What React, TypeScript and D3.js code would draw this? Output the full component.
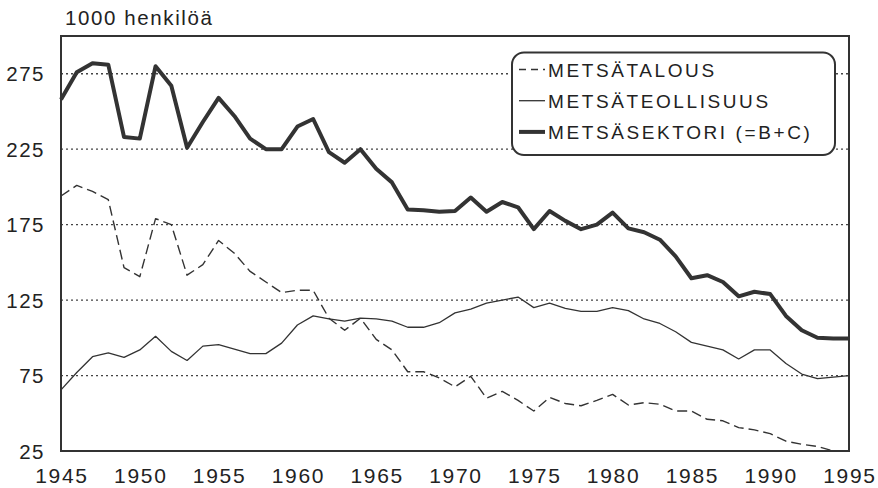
import { useMemo } from "react";
import * as d3 from "d3";

const WIDTH = 878;
const HEIGHT = 488;

const years = [
  1945, 1946, 1947, 1948, 1949, 1950, 1951, 1952, 1953, 1954,
  1955, 1956, 1957, 1958, 1959, 1960, 1961, 1962, 1963, 1964,
  1965, 1966, 1967, 1968, 1969, 1970, 1971, 1972, 1973, 1974,
  1975, 1976, 1977, 1978, 1979, 1980, 1981, 1982, 1983, 1984,
  1985, 1986, 1987, 1988, 1989, 1990, 1991, 1992, 1993, 1994, 1995,
];

// B: metsätalous (dashed)
const metsatalous: (number | null)[] = [
  194, 201, 197, 191.5, 146.5, 140.5, 179, 175, 141.5, 148.5,
  164.5, 156, 144, 137, 130, 131.5, 131.5, 113, 105, 113,
  99, 92, 77.5, 77.5, 73.5, 67.5, 74.5, 60, 64.5, 58.5,
  51.5, 60.5, 56.5, 55, 58.5, 62.5, 55.5, 57, 56, 51.5,
  51.5, 46, 45, 40.5, 39, 36.5, 31.5, 29.5, 28, 25, null,
];

// C: metsäteollisuus (thin)
const metsateollisuus = [
  65.5, 77, 87.5, 90, 87, 92, 101, 91, 85, 94.5,
  95.5, 92.5, 89.5, 89.5, 96.5, 108.5, 114.5, 112.5, 111, 113,
  112.5, 111, 107, 107, 110, 116.5, 119, 123, 125, 127,
  120, 123, 119.5, 117.5, 117.5, 120, 118, 112.5, 109.5, 104,
  97, 94.5, 92, 86, 92, 92, 83, 76, 73, 74, 75,
];

// metsäsektori = B + C (thick)
const metsasektori = [
  258, 276, 282, 281, 233, 232, 280, 267, 226, 243,
  259, 247, 232, 225, 225, 240, 245, 223, 216, 225,
  212, 203, 185, 184.5, 183.5, 184, 193, 183.5, 190, 186.5,
  172, 184, 177.5, 172, 175, 183, 172.5, 170, 165, 154,
  139.5, 141.5, 137, 127.5, 130.5, 129, 114.5, 105, 100, 99.5, 99.5,
];

const yTicks = [25, 75, 125, 175, 225, 275];
const xTicks = [1945, 1950, 1955, 1960, 1965, 1970, 1975, 1980, 1985, 1990, 1995];

const legendItems = [
  { label: "METSÄTALOUS", width: 1.4, dash: "7,5" },
  { label: "METSÄTEOLLISUUS", width: 1.3, dash: "none" },
  { label: "METSÄSEKTORI (=B+C)", width: 4, dash: "none" },
];

const INK = "#333";
const FONT = "'Liberation Sans', Arial, Helvetica, sans-serif";

function App() {
  const x = useMemo(
    () => d3.scaleLinear().domain([1945, 1995]).range([61, 849]),
    []
  );
  const y = useMemo(
    () => d3.scaleLinear().domain([25, 300]).range([451, 36]),
    []
  );

  const line = d3
    .line<number | null>()
    .defined((d) => d != null)
    .x((_, i) => x(years[i]))
    .y((d) => y(d as number));

  const series = [
    { values: metsatalous, width: 1.4, dash: "10,5" },
    { values: metsateollisuus, width: 1.3, dash: "none" },
    { values: metsasektori, width: 4, dash: "none" },
  ];

  const [x0, x1] = x.range();
  const [yb, yt] = y.range();

  return (
    <div style={{ position: "absolute", left: 0, top: 0 }}>
      <svg width={WIDTH} height={HEIGHT} style={{ display: "block" }}>
        <rect width={WIDTH} height={HEIGHT} fill="white" />
        <text
          x={65}
          y={25}
          fontFamily={FONT}
          fontSize={20.5}
          letterSpacing={1.6}
          fill="#222"
        >
          1000 henkilöä
        </text>

        {yTicks
          .filter((t) => t !== 25)
          .map((t) => (
            <line
              key={"g" + t}
              x1={x0}
              x2={x1}
              y1={y(t)}
              y2={y(t)}
              stroke="#444"
              strokeWidth={1.3}
              strokeDasharray="2,3"
            />
          ))}

        {series.map((s, i) => (
          <path
            key={i}
            d={line(s.values) || ""}
            fill="none"
            stroke={INK}
            strokeWidth={s.width}
            strokeDasharray={s.dash}
            strokeLinejoin="round"
          />
        ))}

        <rect
          x={x0}
          y={yt}
          width={x1 - x0}
          height={yb - yt}
          fill="none"
          stroke={INK}
          strokeWidth={2}
        />

        {yTicks.map((t) => (
          <text
            key={"y" + t}
            x={45}
            y={y(t) + 7.5}
            textAnchor="end"
            fontFamily={FONT}
            fontSize={20.5}
            letterSpacing={1.5}
            fill="#222"
          >
            {t}
          </text>
        ))}

        {xTicks.map((t) => (
          <text
            key={"x" + t}
            x={x(t) + 1}
            y={483}
            textAnchor="middle"
            fontFamily={FONT}
            fontSize={21}
            letterSpacing={1.7}
            fill="#222"
          >
            {t}
          </text>
        ))}

        <g>
          <rect
            x={512}
            y={52.5}
            width={323}
            height={102.5}
            rx={12}
            fill="white"
            stroke={INK}
            strokeWidth={2}
          />
          {legendItems.map((item, i) => {
            const cy = 69.5 + i * 31.2;
            return (
              <g key={item.label}>
                <line
                  x1={519}
                  x2={545}
                  y1={cy}
                  y2={cy}
                  stroke={INK}
                  strokeWidth={item.width}
                  strokeDasharray={item.dash === "none" ? undefined : item.dash}
                />
                <text
                  x={548}
                  y={cy + 7}
                  fontFamily={FONT}
                  fontSize={19}
                  letterSpacing={2.6}
                  fill="#222"
                >
                  {item.label}
                </text>
              </g>
            );
          })}
        </g>
      </svg>
    </div>
  );
}

export default App;
